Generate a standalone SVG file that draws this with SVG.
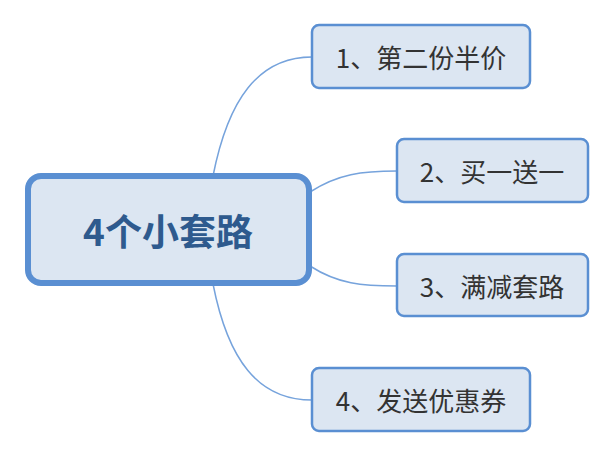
<svg xmlns="http://www.w3.org/2000/svg" width="615" height="459" viewBox="0 0 615 459">
<style>
.node rect{fill:#dce6f2;stroke:#5a8fd2;stroke-width:2.5}
.root rect{fill:#dce6f2;stroke:#5a8fd2;stroke-width:6}
.lbl{font-family:"Noto Sans CJK SC","Liberation Sans",sans-serif;font-size:26px;fill:#333333;text-anchor:middle;dominant-baseline:central}
.rlbl{font-family:"Noto Sans CJK SC","Liberation Sans",sans-serif;font-size:37px;font-weight:bold;fill:#2e5a8e;text-anchor:middle;dominant-baseline:central}
.conn path{fill:none;stroke:#76a3dc;stroke-width:1.5}
</style>
<rect width="615" height="459" fill="#ffffff"/>
<g id="connectors" class="conn">
<path d="M213 176 C228 100 258 57 312 57"/>
<path d="M310 192 C338 174 362 171 397 171"/>
<path d="M310 266 C338 284 362 286 397 286"/>
<path d="M213 284 C228 360 258 400 312 400"/>
</g>
<g id="root" class="root">
<rect x="28" y="176" width="281" height="107" rx="13"/>
<text class="rlbl" x="168" y="230">4个小套路</text>
</g>
<g id="n1" class="node">
<rect x="312" y="25" width="218" height="63" rx="7"/>
<text class="lbl" x="421" y="56">1、第二份半价</text>
</g>
<g id="n2" class="node">
<rect x="397" y="139" width="191" height="63" rx="7"/>
<text class="lbl" x="492" y="170">2、买一送一</text>
</g>
<g id="n3" class="node">
<rect x="397" y="254" width="191" height="62" rx="7"/>
<text class="lbl" x="492" y="285">3、满减套路</text>
</g>
<g id="n4" class="node">
<rect x="312" y="368" width="218" height="63" rx="7"/>
<text class="lbl" x="421" y="399">4、发送优惠券</text>
</g>
</svg>
